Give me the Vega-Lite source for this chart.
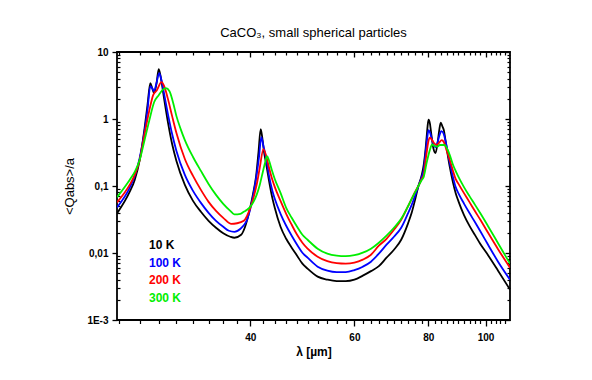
{
  "$schema": "https://vega.github.io/schema/vega-lite/v6.json",
  "autosize": {"type": "none"},
  "width": 393,
  "height": 268,
  "padding": {"left": 117, "top": 52, "right": 82, "bottom": 60},
  "background": "white",
  "title": {"text": "CaCO₃, small spherical particles", "font": "Liberation Sans", "fontSize": 13, "fontWeight": "normal", "color": "#000", "offset": 7, "anchor": "middle", "frame": "group"},
  "data": {"values": [
    {"l":23.8,"q":0.039,"T":"10 K"},{"l":25,"q":0.0817,"T":"10 K"},{"l":25.5,"q":0.1232,"T":"10 K"},{"l":26,"q":0.2445,"T":"10 K"},{"l":26.5,"q":0.732,"T":"10 K"},{"l":26.8,"q":1.61,"T":"10 K"},{"l":27.1,"q":3.42,"T":"10 K"},{"l":27.3,"q":2.88,"T":"10 K"},{"l":27.5,"q":2.43,"T":"10 K"},{"l":27.75,"q":3.31,"T":"10 K"},{"l":28,"q":5.53,"T":"10 K"},{"l":28.3,"q":3.66,"T":"10 K"},{"l":28.6,"q":1.978,"T":"10 K"},{"l":29,"q":0.93,"T":"10 K"},{"l":29.5,"q":0.423,"T":"10 K"},{"l":30,"q":0.236,"T":"10 K"},{"l":31,"q":0.1038,"T":"10 K"},{"l":32,"q":0.06,"T":"10 K"},{"l":33,"q":0.0412,"T":"10 K"},{"l":34,"q":0.0302,"T":"10 K"},{"l":35,"q":0.0238,"T":"10 K"},{"l":36,"q":0.0197,"T":"10 K"},{"l":37,"q":0.01748,"T":"10 K"},{"l":37.6,"q":0.0169,"T":"10 K"},{"l":38.6,"q":0.0187,"T":"10 K"},{"l":39.2,"q":0.0246,"T":"10 K"},{"l":39.9,"q":0.0441,"T":"10 K"},{"l":40.4,"q":0.0737,"T":"10 K"},{"l":40.9,"q":0.1366,"T":"10 K"},{"l":41.3,"q":0.322,"T":"10 K"},{"l":41.65,"q":0.707,"T":"10 K"},{"l":41.9,"q":0.538,"T":"10 K"},{"l":42.2,"q":0.322,"T":"10 K"},{"l":42.5,"q":0.228,"T":"10 K"},{"l":43,"q":0.1232,"T":"10 K"},{"l":43.4,"q":0.0789,"T":"10 K"},{"l":44,"q":0.0472,"T":"10 K"},{"l":45,"q":0.0246,"T":"10 K"},{"l":46,"q":0.0163,"T":"10 K"},{"l":47,"q":0.01199,"T":"10 K"},{"l":48,"q":0.00912,"T":"10 K"},{"l":49,"q":0.00693,"T":"10 K"},{"l":50,"q":0.00584,"T":"10 K"},{"l":52,"q":0.00444,"T":"10 K"},{"l":54,"q":0.004,"T":"10 K"},{"l":56,"q":0.0038,"T":"10 K"},{"l":58,"q":0.0038,"T":"10 K"},{"l":60,"q":0.004,"T":"10 K"},{"l":62,"q":0.00459,"T":"10 K"},{"l":64,"q":0.00536,"T":"10 K"},{"l":66,"q":0.00636,"T":"10 K"},{"l":68,"q":0.00851,"T":"10 K"},{"l":70,"q":0.0112,"T":"10 K"},{"l":72,"q":0.01577,"T":"10 K"},{"l":74,"q":0.0282,"T":"10 K"},{"l":75,"q":0.0398,"T":"10 K"},{"l":76,"q":0.0621,"T":"10 K"},{"l":77,"q":0.1003,"T":"10 K"},{"l":78,"q":0.1463,"T":"10 K"},{"l":78.6,"q":0.206,"T":"10 K"},{"l":79.2,"q":0.369,"T":"10 K"},{"l":79.5,"q":0.538,"T":"10 K"},{"l":79.8,"q":0.784,"T":"10 K"},{"l":80.1,"q":0.98,"T":"10 K"},{"l":80.5,"q":0.869,"T":"10 K"},{"l":81,"q":0.576,"T":"10 K"},{"l":81.6,"q":0.369,"T":"10 K"},{"l":82.3,"q":0.311,"T":"10 K"},{"l":83,"q":0.453,"T":"10 K"},{"l":83.5,"q":0.684,"T":"10 K"},{"l":84,"q":0.884,"T":"10 K"},{"l":84.5,"q":0.784,"T":"10 K"},{"l":85,"q":0.684,"T":"10 K"},{"l":85.5,"q":0.502,"T":"10 K"},{"l":86,"q":0.356,"T":"10 K"},{"l":87,"q":0.1924,"T":"10 K"},{"l":88,"q":0.1171,"T":"10 K"},{"l":89,"q":0.0789,"T":"10 K"},{"l":90,"q":0.059,"T":"10 K"},{"l":92,"q":0.0365,"T":"10 K"},{"l":94,"q":0.0252,"T":"10 K"},{"l":96,"q":0.01846,"T":"10 K"},{"l":98,"q":0.01361,"T":"10 K"},{"l":101,"q":0.00927,"T":"10 K"},{"l":105,"q":0.00545,"T":"10 K"},{"l":110,"q":0.00284,"T":"10 K"},

    {"l":23.8,"q":0.048,"T":"100 K"},{"l":25,"q":0.0937,"T":"100 K"},{"l":25.5,"q":0.1413,"T":"100 K"},{"l":26,"q":0.262,"T":"100 K"},{"l":26.5,"q":0.66,"T":"100 K"},{"l":26.8,"q":1.356,"T":"100 K"},{"l":27.1,"q":3.09,"T":"100 K"},{"l":27.3,"q":2.88,"T":"100 K"},{"l":27.5,"q":2.6,"T":"100 K"},{"l":27.75,"q":3.42,"T":"100 K"},{"l":28.05,"q":4.82,"T":"100 K"},{"l":28.3,"q":3.79,"T":"100 K"},{"l":28.6,"q":2.35,"T":"100 K"},{"l":29,"q":1.224,"T":"100 K"},{"l":29.5,"q":0.596,"T":"100 K"},{"l":30,"q":0.333,"T":"100 K"},{"l":31,"q":0.1463,"T":"100 K"},{"l":32,"q":0.0845,"T":"100 K"},{"l":33,"q":0.056,"T":"100 K"},{"l":34,"q":0.0398,"T":"100 K"},{"l":35,"q":0.0302,"T":"100 K"},{"l":36,"q":0.0246,"T":"100 K"},{"l":36.8,"q":0.02147,"T":"100 K"},{"l":37.6,"q":0.0207,"T":"100 K"},{"l":38.5,"q":0.023,"T":"100 K"},{"l":39,"q":0.0259,"T":"100 K"},{"l":39.5,"q":0.0313,"T":"100 K"},{"l":40,"q":0.0456,"T":"100 K"},{"l":40.5,"q":0.0763,"T":"100 K"},{"l":41,"q":0.1463,"T":"100 K"},{"l":41.4,"q":0.28,"T":"100 K"},{"l":41.75,"q":0.538,"T":"100 K"},{"l":42.1,"q":0.395,"T":"100 K"},{"l":42.6,"q":0.2445,"T":"100 K"},{"l":43,"q":0.1463,"T":"100 K"},{"l":43.6,"q":0.0845,"T":"100 K"},{"l":44,"q":0.0643,"T":"100 K"},{"l":45,"q":0.0385,"T":"100 K"},{"l":46,"q":0.0255,"T":"100 K"},{"l":47,"q":0.0181,"T":"100 K"},{"l":48,"q":0.01329,"T":"100 K"},{"l":49,"q":0.0101,"T":"100 K"},{"l":50,"q":0.00851,"T":"100 K"},{"l":52,"q":0.00625,"T":"100 K"},{"l":54,"q":0.00545,"T":"100 K"},{"l":56,"q":0.00518,"T":"100 K"},{"l":58,"q":0.00518,"T":"100 K"},{"l":60,"q":0.00555,"T":"100 K"},{"l":62,"q":0.00625,"T":"100 K"},{"l":64,"q":0.00742,"T":"100 K"},{"l":66,"q":0.00976,"T":"100 K"},{"l":68,"q":0.01329,"T":"100 K"},{"l":70,"q":0.01748,"T":"100 K"},{"l":72,"q":0.0238,"T":"100 K"},{"l":74,"q":0.0398,"T":"100 K"},{"l":75,"q":0.0523,"T":"100 K"},{"l":76,"q":0.0712,"T":"100 K"},{"l":77,"q":0.1003,"T":"100 K"},{"l":78,"q":0.1366,"T":"100 K"},{"l":78.6,"q":0.1736,"T":"100 K"},{"l":79.2,"q":0.322,"T":"100 K"},{"l":79.5,"q":0.438,"T":"100 K"},{"l":79.8,"q":0.576,"T":"100 K"},{"l":80.1,"q":0.684,"T":"100 K"},{"l":80.6,"q":0.617,"T":"100 K"},{"l":81.2,"q":0.485,"T":"100 K"},{"l":81.8,"q":0.402,"T":"100 K"},{"l":82.3,"q":0.382,"T":"100 K"},{"l":82.9,"q":0.438,"T":"100 K"},{"l":83.5,"q":0.557,"T":"100 K"},{"l":84.2,"q":0.66,"T":"100 K"},{"l":85,"q":0.596,"T":"100 K"},{"l":85.5,"q":0.485,"T":"100 K"},{"l":86,"q":0.382,"T":"100 K"},{"l":87,"q":0.221,"T":"100 K"},{"l":88,"q":0.1413,"T":"100 K"},{"l":89,"q":0.097,"T":"100 K"},{"l":90,"q":0.0776,"T":"100 K"},{"l":92,"q":0.0542,"T":"100 K"},{"l":94,"q":0.0391,"T":"100 K"},{"l":96,"q":0.0287,"T":"100 K"},{"l":98,"q":0.0211,"T":"100 K"},{"l":101,"q":0.01329,"T":"100 K"},{"l":105,"q":0.00742,"T":"100 K"},{"l":110,"q":0.004,"T":"100 K"},

    {"l":23.8,"q":0.057,"T":"200 K"},{"l":25,"q":0.1038,"T":"200 K"},{"l":25.5,"q":0.1463,"T":"200 K"},{"l":26,"q":0.2445,"T":"200 K"},{"l":26.5,"q":0.596,"T":"200 K"},{"l":27,"q":1.356,"T":"200 K"},{"l":27.4,"q":2.27,"T":"200 K"},{"l":27.8,"q":2.69,"T":"200 K"},{"l":28.3,"q":3.54,"T":"200 K"},{"l":28.6,"q":3.09,"T":"200 K"},{"l":29,"q":2.05,"T":"200 K"},{"l":29.5,"q":1.104,"T":"200 K"},{"l":30,"q":0.617,"T":"200 K"},{"l":31,"q":0.253,"T":"200 K"},{"l":32,"q":0.1413,"T":"200 K"},{"l":33,"q":0.0875,"T":"200 K"},{"l":34,"q":0.058,"T":"200 K"},{"l":35,"q":0.0426,"T":"200 K"},{"l":36,"q":0.0335,"T":"200 K"},{"l":37.1,"q":0.0273,"T":"200 K"},{"l":38,"q":0.0278,"T":"200 K"},{"l":39,"q":0.0302,"T":"200 K"},{"l":39.5,"q":0.0359,"T":"200 K"},{"l":40,"q":0.0472,"T":"200 K"},{"l":40.5,"q":0.0665,"T":"200 K"},{"l":41,"q":0.1038,"T":"200 K"},{"l":41.5,"q":0.186,"T":"200 K"},{"l":42.1,"q":0.356,"T":"200 K"},{"l":42.6,"q":0.271,"T":"200 K"},{"l":43,"q":0.1924,"T":"200 K"},{"l":43.5,"q":0.1319,"T":"200 K"},{"l":44,"q":0.097,"T":"200 K"},{"l":45,"q":0.06,"T":"200 K"},{"l":46,"q":0.0385,"T":"200 K"},{"l":47,"q":0.0264,"T":"200 K"},{"l":48,"q":0.0187,"T":"200 K"},{"l":49,"q":0.01423,"T":"200 K"},{"l":50,"q":0.01159,"T":"200 K"},{"l":52,"q":0.00881,"T":"200 K"},{"l":54,"q":0.00755,"T":"200 K"},{"l":56,"q":0.00705,"T":"200 K"},{"l":58,"q":0.00693,"T":"200 K"},{"l":60,"q":0.00717,"T":"200 K"},{"l":62,"q":0.00795,"T":"200 K"},{"l":64,"q":0.00943,"T":"200 K"},{"l":66,"q":0.01284,"T":"200 K"},{"l":68,"q":0.0163,"T":"200 K"},{"l":70,"q":0.0222,"T":"200 K"},{"l":72,"q":0.0313,"T":"200 K"},{"l":74,"q":0.0506,"T":"200 K"},{"l":75,"q":0.0643,"T":"200 K"},{"l":76,"q":0.0817,"T":"200 K"},{"l":77,"q":0.1003,"T":"200 K"},{"l":78,"q":0.1275,"T":"200 K"},{"l":78.6,"q":0.1463,"T":"200 K"},{"l":79.2,"q":0.2445,"T":"200 K"},{"l":79.5,"q":0.311,"T":"200 K"},{"l":80,"q":0.453,"T":"200 K"},{"l":80.5,"q":0.529,"T":"200 K"},{"l":81,"q":0.502,"T":"200 K"},{"l":81.8,"q":0.438,"T":"200 K"},{"l":82.7,"q":0.409,"T":"200 K"},{"l":83.5,"q":0.445,"T":"200 K"},{"l":84.3,"q":0.485,"T":"200 K"},{"l":85,"q":0.453,"T":"200 K"},{"l":85.5,"q":0.395,"T":"200 K"},{"l":86,"q":0.333,"T":"200 K"},{"l":87,"q":0.2445,"T":"200 K"},{"l":88,"q":0.1736,"T":"200 K"},{"l":89,"q":0.1275,"T":"200 K"},{"l":90,"q":0.1075,"T":"200 K"},{"l":92,"q":0.0776,"T":"200 K"},{"l":94,"q":0.057,"T":"200 K"},{"l":96,"q":0.0419,"T":"200 K"},{"l":98,"q":0.0313,"T":"200 K"},{"l":101,"q":0.02,"T":"200 K"},{"l":105,"q":0.01139,"T":"200 K"},{"l":110,"q":0.00604,"T":"200 K"},

    {"l":23.8,"q":0.068,"T":"300 K"},{"l":25,"q":0.1232,"T":"300 K"},{"l":25.5,"q":0.162,"T":"300 K"},{"l":26,"q":0.2445,"T":"300 K"},{"l":26.5,"q":0.485,"T":"300 K"},{"l":27,"q":0.963,"T":"300 K"},{"l":27.5,"q":1.78,"T":"300 K"},{"l":28,"q":2.27,"T":"300 K"},{"l":28.4,"q":2.69,"T":"300 K"},{"l":28.8,"q":2.88,"T":"300 K"},{"l":29.2,"q":2.6,"T":"300 K"},{"l":29.6,"q":1.78,"T":"300 K"},{"l":30,"q":1.104,"T":"300 K"},{"l":30.5,"q":0.707,"T":"300 K"},{"l":31,"q":0.485,"T":"300 K"},{"l":32,"q":0.271,"T":"300 K"},{"l":33,"q":0.168,"T":"300 K"},{"l":34,"q":0.1075,"T":"300 K"},{"l":35,"q":0.0737,"T":"300 K"},{"l":36,"q":0.0542,"T":"300 K"},{"l":37,"q":0.0426,"T":"300 K"},{"l":37.6,"q":0.0378,"T":"300 K"},{"l":38.5,"q":0.0385,"T":"300 K"},{"l":39,"q":0.0412,"T":"300 K"},{"l":39.5,"q":0.0441,"T":"300 K"},{"l":40,"q":0.0489,"T":"300 K"},{"l":40.5,"q":0.058,"T":"300 K"},{"l":41,"q":0.0737,"T":"300 K"},{"l":41.5,"q":0.1038,"T":"300 K"},{"l":42,"q":0.162,"T":"300 K"},{"l":42.4,"q":0.228,"T":"300 K"},{"l":42.7,"q":0.28,"T":"300 K"},{"l":43,"q":0.2445,"T":"300 K"},{"l":43.5,"q":0.1736,"T":"300 K"},{"l":44,"q":0.1275,"T":"300 K"},{"l":45,"q":0.0789,"T":"300 K"},{"l":46,"q":0.0472,"T":"300 K"},{"l":47,"q":0.0335,"T":"300 K"},{"l":48,"q":0.0246,"T":"300 K"},{"l":49,"q":0.0187,"T":"300 K"},{"l":50,"q":0.01577,"T":"300 K"},{"l":52,"q":0.01159,"T":"300 K"},{"l":54,"q":0.00976,"T":"300 K"},{"l":56,"q":0.00912,"T":"300 K"},{"l":58,"q":0.00896,"T":"300 K"},{"l":60,"q":0.00927,"T":"300 K"},{"l":62,"q":0.0101,"T":"300 K"},{"l":64,"q":0.01159,"T":"300 K"},{"l":66,"q":0.01423,"T":"300 K"},{"l":68,"q":0.0181,"T":"300 K"},{"l":70,"q":0.0238,"T":"300 K"},{"l":72,"q":0.0324,"T":"300 K"},{"l":74,"q":0.0506,"T":"300 K"},{"l":75,"q":0.0643,"T":"300 K"},{"l":76,"q":0.0803,"T":"300 K"},{"l":77,"q":0.1003,"T":"300 K"},{"l":78,"q":0.1232,"T":"300 K"},{"l":78.6,"q":0.1366,"T":"300 K"},{"l":79.2,"q":0.186,"T":"300 K"},{"l":79.5,"q":0.221,"T":"300 K"},{"l":80,"q":0.28,"T":"300 K"},{"l":80.5,"q":0.345,"T":"300 K"},{"l":81.2,"q":0.416,"T":"300 K"},{"l":82,"q":0.395,"T":"300 K"},{"l":82.9,"q":0.388,"T":"300 K"},{"l":83.7,"q":0.409,"T":"300 K"},{"l":84.6,"q":0.409,"T":"300 K"},{"l":85,"q":0.409,"T":"300 K"},{"l":85.5,"q":0.402,"T":"300 K"},{"l":86,"q":0.369,"T":"300 K"},{"l":87,"q":0.29,"T":"300 K"},{"l":88,"q":0.2132,"T":"300 K"},{"l":89,"q":0.168,"T":"300 K"},{"l":90,"q":0.1366,"T":"300 K"},{"l":92,"q":0.0953,"T":"300 K"},{"l":94,"q":0.07,"T":"300 K"},{"l":96,"q":0.0523,"T":"300 K"},{"l":98,"q":0.0391,"T":"300 K"},{"l":101,"q":0.0251,"T":"300 K"},{"l":105,"q":0.01399,"T":"300 K"},{"l":110,"q":0.00693,"T":"300 K"}
  ]},
  "layer": [
    {
      "mark": {"type": "line", "interpolate": "monotone", "strokeWidth": 1.8, "clip": true},
      "encoding": {
        "x": {"field": "l", "type": "quantitative", "scale": {"type": "log", "domain": [23.8, 110], "nice": false, "zero": false},
              "axis": {"orient": "bottom", "values": [40, 60, 80, 100], "tickSize": 6, "tickWidth": 1.3, "labelPadding": 6, "title": "λ [µm]", "titleFontSize": 12, "titleFontWeight": "bold", "titlePadding": 4, "labelFlush": false}},
        "y": {"field": "q", "type": "quantitative", "scale": {"type": "log", "domain": [0.001, 10], "nice": false},
              "axis": {"orient": "left", "values": [0.001, 0.01, 0.1, 1, 10], "tickSize": 5, "tickWidth": 1.3, "labelPadding": 4, "labelExpr": "datum.value >= 5 ? '10' : datum.value >= 0.5 ? '1' : datum.value >= 0.05 ? '0,1' : datum.value >= 0.005 ? '0,01' : '1E-3'", "title": "<Qabs>/a", "titleFontSize": 13, "titleFontWeight": "normal", "titlePadding": 10, "labelFlush": false}},
        "color": {"field": "T", "type": "nominal", "sort": ["10 K", "100 K", "200 K", "300 K"],
                  "scale": {"domain": ["10 K", "100 K", "200 K", "300 K"], "range": ["#000000", "#0000ff", "#ff0000", "#00ee00"]},
                  "legend": {"orient": "none", "legendX": 20, "legendY": 187, "title": null, "padding": 0, "symbolSize": 0, "symbolStrokeWidth": 0, "symbolOpacity": 0, "labelOffset": 0, "labelFont": "Liberation Sans", "labelFontSize": 12, "labelFontWeight": "bold", "rowPadding": 5.5,
                             "encode": {"labels": {"update": {"fill": {"scale": "color", "field": "value"}}}}}}
      }
    },
    {
      "mark": {"type": "line", "strokeOpacity": 0},
      "encoding": {
        "x": {"field": "l", "type": "quantitative", "scale": {"type": "log", "domain": [23.8, 110], "nice": false, "zero": false},
              "axis": {"orient": "bottom", "values": [24,26,28,30,32,34,36,38,42,44,46,48,50,52,54,56,58,62,64,66,68,70,72,74,76,78,82,84,86,88,90,92,94,96,98,102,104,106,108], "tickSize": 3.5, "tickWidth": 1.2, "labels": false, "title": null}},
        "y": {"field": "q", "type": "quantitative", "scale": {"type": "log", "domain": [0.001, 10], "nice": false},
              "axis": {"orient": "left", "values": [0.002,0.003,0.004,0.005,0.006,0.007,0.008,0.009,0.02,0.03,0.04,0.05,0.06,0.07,0.08,0.09,0.2,0.3,0.4,0.5,0.6,0.7,0.8,0.9,2,3,4,5,6,7,8,9], "tickSize": -3, "tickWidth": 1.2, "labels": false, "title": null}}
      }
    },
    {
      "mark": {"type": "line", "strokeOpacity": 0},
      "encoding": {
        "x": {"field": "l", "type": "quantitative", "scale": {"type": "log", "domain": [23.8, 110], "nice": false, "zero": false},
              "axis": {"orient": "top", "values": [40, 60, 80, 100], "tickSize": -5, "tickWidth": 1.3, "labels": false, "title": null}},
        "y": {"field": "q", "type": "quantitative", "scale": {"type": "log", "domain": [0.001, 10], "nice": false},
              "axis": {"orient": "right", "values": [0.001, 0.01, 0.1, 1, 10], "tickSize": -5, "tickWidth": 1.3, "labels": false, "title": null}}
      }
    },
    {
      "mark": {"type": "line", "strokeOpacity": 0},
      "encoding": {
        "x": {"field": "l", "type": "quantitative", "scale": {"type": "log", "domain": [23.8, 110], "nice": false, "zero": false},
              "axis": {"orient": "top", "values": [24,26,28,30,32,34,36,38,42,44,46,48,50,52,54,56,58,62,64,66,68,70,72,74,76,78,82,84,86,88,90,92,94,96,98,102,104,106,108], "tickSize": -3, "tickWidth": 1.2, "labels": false, "title": null}},
        "y": {"field": "q", "type": "quantitative", "scale": {"type": "log", "domain": [0.001, 10], "nice": false},
              "axis": {"orient": "right", "values": [0.002,0.003,0.004,0.005,0.006,0.007,0.008,0.009,0.02,0.03,0.04,0.05,0.06,0.07,0.08,0.09,0.2,0.3,0.4,0.5,0.6,0.7,0.8,0.9,2,3,4,5,6,7,8,9], "tickSize": -3, "tickWidth": 1.2, "labels": false, "title": null}}
      }
    }
  ],
  "resolve": {"axis": {"x": "independent", "y": "independent"}},
  "config": {
    "view": {"stroke": "#000000", "strokeWidth": 1.8},
    "axis": {"domain": false, "grid": false, "tickColor": "#000000", "labelColor": "#000000", "labelFont": "Liberation Sans", "labelFontSize": 10, "labelFontWeight": "bold", "titleFont": "Liberation Sans", "titleColor": "#000000"}
  }
}
